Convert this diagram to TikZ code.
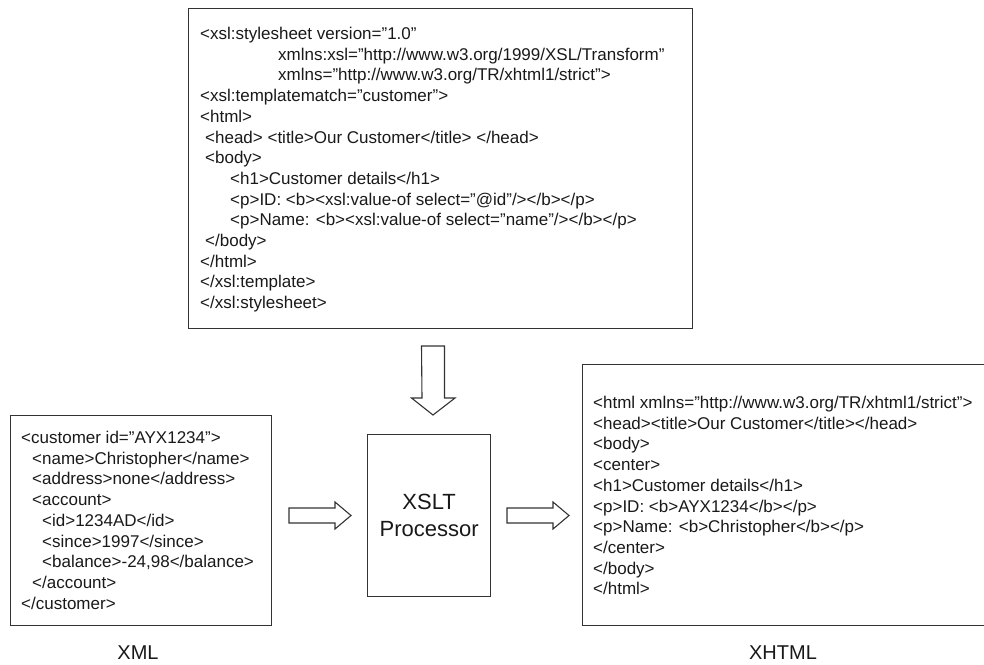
\documentclass[tikz,border=0pt]{standalone}
\usepackage{fontspec}
\setmainfont{Liberation Sans}
\begin{document}
\begin{tikzpicture}[x=1pt,y=-1pt,
  frame/.style={draw=black!80, line width=1.3pt, inner sep=0pt, anchor=north west},
  code/.style={anchor=base west, inner sep=0pt, text=black!90,
    font=\fontsize{17}{20.7}\selectfont},
  caption/.style={inner sep=0pt, text=black!90, font=\fontsize{20}{24}\selectfont},
  blockarrow/.style={draw=black!80, line width=1.1pt, fill=white, line join=miter}]
\useasboundingbox (0,0) rectangle (984,664);
\clip (0,0) rectangle (984,664);

% frames
\node[frame, minimum width=504pt, minimum height=320pt] (xsl) at (188,8) {};
\node[frame, minimum width=261pt, minimum height=210pt] (xml) at (10,415) {};
\node[frame, minimum width=123pt, minimum height=162pt] (proc) at (367,434) {};
\node[frame, minimum width=420pt, minimum height=261pt] (xhtml) at (582,364) {};

% stylesheet
\node[code] (xslcode) at (200,39.5) {\begin{tabular}[t]{@{}l@{}}
<xsl:stylesheet version="1.0"\\
\hspace*{78pt}xmlns:xsl="http://www.w3.org/1999/XSL/Transform"\\
\hspace*{78pt}xmlns="http://www.w3.org/TR/xhtml1/strict">\\
<xsl:templatematch="customer">\\
<html>\\
\hspace*{5pt}<head> <title>Our Customer</title> </head>\\
\hspace*{5pt}<body>\\
\hspace*{30pt}<h1>Customer details</h1>\\
\hspace*{30pt}<p>ID: <b><xsl:value-of select="@id"/></b></p>\\
\hspace*{30pt}<p>Name: <b><xsl:value-of select="name"/></b></p>\\
\hspace*{5pt}</body>\\
</html>\\
</xsl:template>\\
</xsl:stylesheet>
\end{tabular}};

% source document
\node[code] (xmlcode) at (21,443.5) {\begin{tabular}[t]{@{}l@{}}
<customer id="AYX1234">\\
\hspace*{11pt}<name>Christopher</name>\\
\hspace*{11pt}<address>none</address>\\
\hspace*{11pt}<account>\\
\hspace*{21pt}<id>1234AD</id>\\
\hspace*{21pt}<since>1997</since>\\
\hspace*{21pt}<balance>-24,98</balance>\\
\hspace*{11pt}</account>\\
</customer>
\end{tabular}};

% result document
\node[code] (xhtmlcode) at (593,408.5) {\begin{tabular}[t]{@{}l@{}}
<html xmlns="http://www.w3.org/TR/xhtml1/strict">\\
<head><title>Our Customer</title></head>\\
<body>\\
<center>\\
<h1>Customer details</h1>\\
<p>ID: <b>AYX1234</b></p>\\
<p>Name: <b>Christopher</b></p>\\
</center>\\
</body>\\
</html>
\end{tabular}};

% processor label
\node[inner sep=0pt, align=center, text=black!90,
  font=\fontsize{22}{27}\selectfont] (proclabel) at (proc.center) {XSLT\\Processor};

% captions
\node[caption] (xmllabel) at (138,653) {XML};
\node[caption] (xhtmllabel) at (783,653) {XHTML};

% block arrows
\coordinate (down) at (433,346);
\draw[blockarrow] (down) ++(-11.5,0) -- ++(23,0) -- ++(0,52) -- ++(10.5,0)
  -- (433,415) -- ++(-21.5,-17) -- ++(10.5,0) -- cycle;

\coordinate (inarrow) at (289,515.5);
\draw[blockarrow] (inarrow) ++(0,-7.5) -- ++(46,0) -- ++(0,-6) -- (351,515.5)
  -- (335,529) -- ++(0,-6) -- ++(-46,0) -- cycle;

\coordinate (outarrow) at (507,515.5);
\draw[blockarrow] (outarrow) ++(0,-7.5) -- ++(46,0) -- ++(0,-6) -- (569,515.5)
  -- (553,529) -- ++(0,-6) -- ++(-46,0) -- cycle;
\end{tikzpicture}
\end{document}
